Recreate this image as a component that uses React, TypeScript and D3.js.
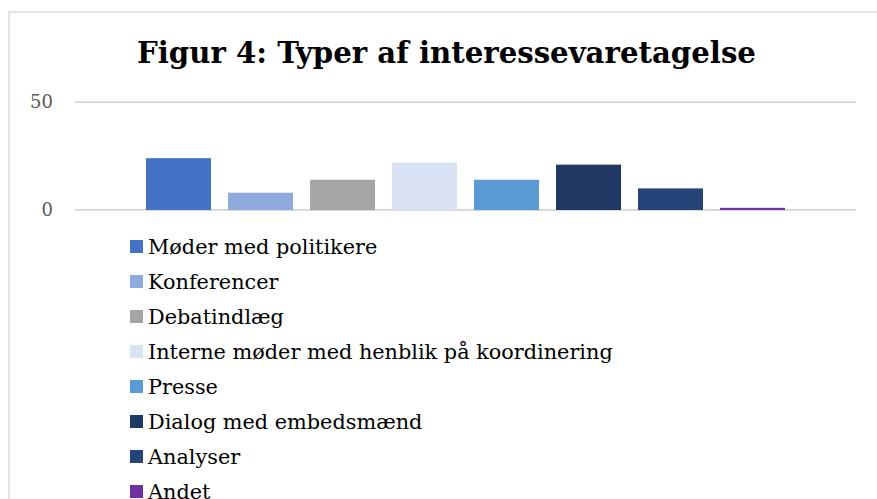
import React from "react";
import * as d3 from "d3";

const seriesNames = [
  "Møder med politikere",
  "Konferencer",
  "Debatindlæg",
  "Interne møder med henblik på koordinering",
  "Presse",
  "Dialog med embedsmænd",
  "Analyser",
  "Andet",
];
const seriesValues = [24, 8, 14, 22, 14, 21, 10, 1];
const seriesColors = ["#4472C4", "#8FAADC", "#A5A5A5", "#DAE3F3", "#5B9BD5", "#203864", "#264478", "#7030A0"];
const yTicks = [0, 50];
const title = "Figur 4: Typer af interessevaretagelse";

const W = 877;
const H = 499;
const FONT = "'DejaVu Serif', Georgia, serif";

export default function App() {
  const plotLeft = 75;
  const plotRight = 856;
  const y = d3.scaleLinear().domain([0, 50]).range([210, 102]);
  const x = d3
    .scaleBand<string>()
    .domain(seriesNames)
    .range([plotLeft, plotRight])
    .paddingInner(0.2073)
    .paddingOuter(0.866);

  return (
    <svg
      width={W}
      height={H}
      style={{ position: "absolute", left: 0, top: 0, background: "#fff" }}
      fontFamily={FONT}
    >
      <rect x={9} y={12} width={1000} height={1000} fill="#fff" stroke="#D9D9D9" strokeWidth={1.5} />
      <text x={446.5} y={63} textAnchor="middle" fontSize={29.2} fontWeight="bold" fill="#000">
        {title}
      </text>
      {yTicks.map((t) => (
        <g key={t}>
          <line x1={plotLeft} x2={plotRight} y1={y(t)} y2={y(t)} stroke="#D9D9D9" strokeWidth={1.8} />
          <text x={53} y={y(t)} dy="0.35em" textAnchor="end" fontSize={18} fill="#595959">
            {t}
          </text>
        </g>
      ))}
      {seriesNames.map((s, i) => (
        <rect
          key={s}
          x={x(s)}
          y={y(seriesValues[i])}
          width={x.bandwidth()}
          height={y(0) - y(seriesValues[i])}
          fill={seriesColors[i]}
        />
      ))}
      {seriesNames.map((s, i) => (
        <g key={s} transform={`translate(130, ${240 + i * 35})`}>
          <rect x={0} y={0} width={13} height={13} fill={seriesColors[i]} />
          <text x={18} y={14} fontSize={20.8} fill="#000">
            {s}
          </text>
        </g>
      ))}
    </svg>
  );
}
